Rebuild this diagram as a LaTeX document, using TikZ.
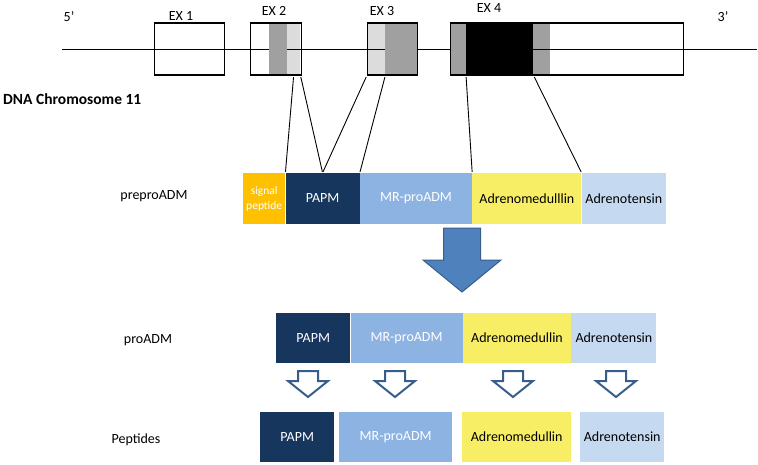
\documentclass[tikz,border=0pt]{standalone}
\usepackage{fontspec}
\setmainfont{Carlito}
\definecolor{dgray}{HTML}{A0A0A0}
\definecolor{lgray}{HTML}{DCDCDC}
\definecolor{sigcol}{HTML}{FFC000}
\definecolor{papmcol}{HTML}{17365D}
\definecolor{mrcol}{HTML}{8DB3E2}
\definecolor{admcol}{HTML}{F8EE66}
\definecolor{adtcol}{HTML}{C5D9F1}
\definecolor{bigblue}{HTML}{4F81BD}
\definecolor{arrblue}{HTML}{385D8A}

\begin{document}
\begin{tikzpicture}[
			x=1pt, y=-1pt,
			lbl/.style={font=\fontsize{14}{16}\selectfont, inner sep=0pt},
			part/.style={minimum height=52, inner sep=0pt, anchor=west},
			exon/.style={part, draw=black, line width=1.1pt},
			seg/.style={inner sep=0pt, anchor=west, font=\fontsize{14}{16}\selectfont},
			link/.style={draw=black, line width=0.9pt, shorten <=2pt, shorten >=1pt},
			hollow/.style={draw=arrblue, fill=white, line width=2pt, line join=miter}
			]
			\useasboundingbox (0,0) rectangle (758,464);
			% exon parts
			\node[part, fill=lgray, minimum width=13] (ex2b) at (287,49) {};
			\node[part, fill=lgray, minimum width=18] (ex3a) at (367,49) {};
			\node[part, fill=dgray, minimum width=17] (ex4c) at (533,49) {};
			\draw[line width=1pt] (62,49) -- (757,49);
			\node[part, fill=dgray, minimum width=18] (ex2a) at (269,49) {};
			\node[part, fill=dgray, minimum width=32] (ex3b) at (385,49) {};
			\node[part, fill=dgray, minimum width=16] (ex4a) at (450,49) {};
			\node[part, fill=black, minimum width=67] (ex4b) at (466,49) {};
			\node[exon, minimum width=70] (ex1) at (154,49) {};
			\node[exon, minimum width=51] (ex2) at (250,49) {};
			\node[exon, minimum width=50] (ex3) at (367,49) {};
			\node[exon, minimum width=233] (ex4) at (450,49) {};
			\node[lbl] (p5) at (69,17) {5'};
			\node[lbl] (p3) at (723,17) {3'};
			\node[lbl] (l1) at (181,16) {EX 1};
			\node[lbl] (l2) at (274,11) {EX 2};
			\node[lbl] (l3) at (382,11) {EX 3};
			\node[lbl] (l4) at (489,8) {EX 4};
			\node[lbl, font=\fontsize{15.5}{17}\selectfont\bfseries, anchor=west] (dna) at (3,99) {DNA Chromosome 11};

			% preproADM
			\node[lbl] (lpre) at (154,196) {preproADM};
			\node[seg, minimum height=51, fill=sigcol, text=white, minimum width=42,
				font=\fontsize{11.5}{15}\selectfont, align=center] (psig) at (243,198.5) {signal\\peptide};
			\node[seg, minimum height=51, fill=papmcol, text=white, minimum width=74] (ppapm) at (psig.east) {PAPM};
			\node[seg, minimum height=51, fill=mrcol, text=white, minimum width=112] (pmr) at (ppapm.east) {MR-proADM};
			\node[seg, minimum height=51, fill=admcol, minimum width=109] (padm) at (pmr.east) {Adrenomedulllin};
			\node[seg, minimum height=51, fill=adtcol, minimum width=84] (padt) at (padm.east) {Adrenotensin};
			\draw[link] (ex2b.south) -- (ppapm.north west);
			\draw[link] (ex2b.south east) -- (ppapm.north);
			\draw[link] (ex3a.south west) -- (ppapm.north);
			\draw[link] (ex3a.south east) -- (ppapm.north east);
			\draw[link] (ex4b.south west) -- (pmr.north east);
			\draw[link] (ex4b.south east) -- (padm.north east);

			\draw[draw=arrblue, fill=bigblue, line width=1pt] (443.5,228) -- (480.5,228) -- (480.5,260)
				-- (501,260) -- (462,292) -- (423,260) -- (443.5,260) -- cycle;

			% proADM
			\node[lbl] (lpro) at (148,340) {proADM};
			\node[seg, minimum height=50, fill=papmcol, text=white, minimum width=74] (rpapm) at (276,338) {PAPM};
			\node[seg, minimum height=50, fill=mrcol, text=white, minimum width=112] (rmr) at (rpapm.east) {MR-proADM};
			\node[seg, minimum height=50, fill=admcol, minimum width=108] (radm) at (rmr.east) {Adrenomedullin};
			\node[seg, minimum height=50, fill=adtcol, minimum width=85] (radt) at (radm.east) {Adrenotensin};

			\foreach \cx in {308,395,513,616}
				\draw[hollow] ({\cx-10},371) -- ({\cx+10},371) -- ({\cx+10},381) -- ({\cx+20},381)
					-- (\cx,397) -- ({\cx-20},381) -- ({\cx-10},381) -- cycle;

			% peptides
			\node[lbl] (lpep) at (136,440) {Peptides};
			\node[seg, minimum height=50, fill=papmcol, text=white, minimum width=74] (tpapm) at (260,437) {PAPM};
			\node[seg, minimum height=50, fill=mrcol, text=white, minimum width=113] (tmr) at (339,437) {MR-proADM};
			\node[seg, minimum height=50, fill=admcol, minimum width=109] (tadm) at (462,437) {Adrenomedullin};
			\node[seg, minimum height=50, fill=adtcol, minimum width=84] (tadt) at (580,437) {Adrenotensin};
		\end{tikzpicture}
\end{document}
